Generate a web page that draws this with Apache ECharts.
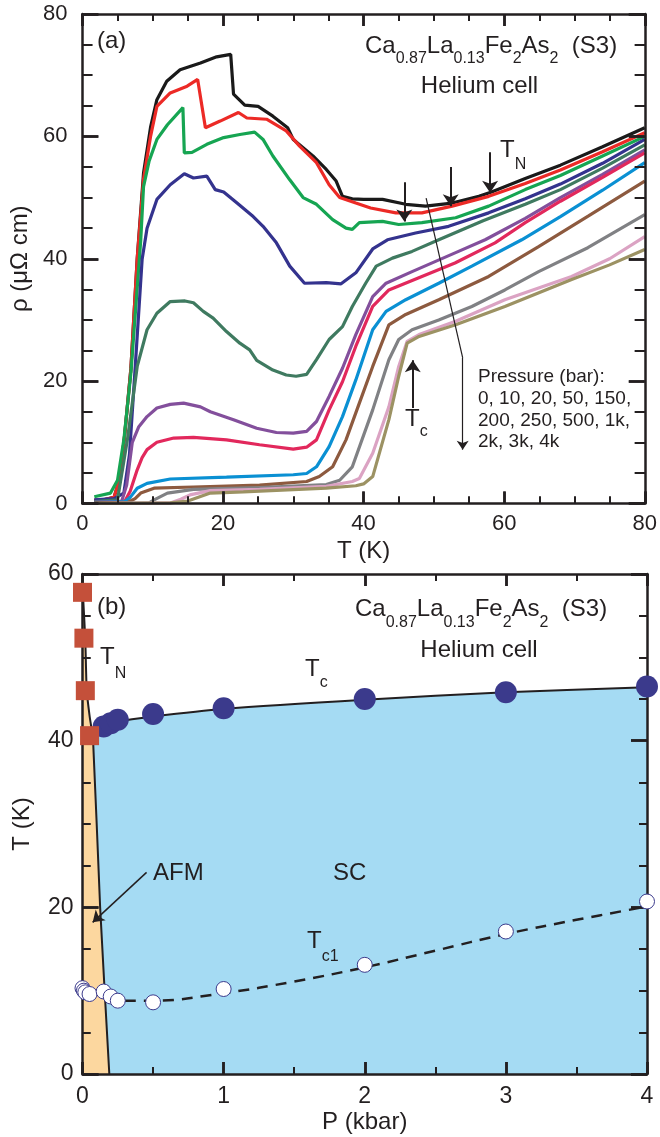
<!DOCTYPE html>
<html><head><meta charset="utf-8">
<script src="https://cdn.jsdelivr.net/npm/echarts@6/dist/echarts.min.js"></script>
<style>html,body{margin:0;padding:0;background:#fff}#c{width:660px;height:1137px}</style>
</head><body><div id="c"></div>
<script>
// ===== Panel (a): resistivity rho (µΩ cm) vs T (K) =====
const pressures = ['0', '10', '20', '50', '150', '200', '250', '500', '1k', '2k', '3k', '4k'];
const rho_0 = [[1.7,0.5],[3,0.6],[4.5,1.0],[5.3,4],[6.0,11],[6.9,22],[7.8,40],[8.7,54],[9.7,61.5],[10.6,66],[12.0,69],[13.9,70.9],[16.8,72],[19.1,73.0],[21.1,73.4],[21.5,66.9],[23.1,65.1],[25.0,64.9],[27.1,63.3],[29.2,61.4],[30.0,59.5],[32.8,56.8],[34.7,54.6],[36.1,52.7],[37.0,50.2],[38.4,49.8],[40,49.7],[42.7,49.7],[46,48.9],[48.8,48.6],[52.6,49.1],[56.4,50.2],[58.2,50.9],[63.0,53.1],[68,55.3],[74,58.3],[80,61.4]];
const rho_10 = [[1.7,0.5],[3,0.6],[4.5,1.0],[5.3,4],[6.0,11],[6.9,22],[7.8,40],[8.7,53],[9.7,60],[10.6,64.9],[12.5,67.1],[14.9,68.2],[16.4,69.3],[17.5,61.4],[19.6,62.5],[22.2,63.9],[23.4,63.0],[26.2,62.8],[29.0,60.9],[30.9,58.4],[33.3,55.7],[35.1,52.1],[36.6,50.0],[38.9,49.1],[41,48.3],[44.6,47.5],[48.3,47.5],[52.6,48.6],[57.8,50.2],[63,52.3],[68,54.5],[74,57.5],[80,60.6]];
const rho_20 = [[1.7,1.1],[4.0,1.7],[5.0,3.8],[5.9,10.4],[6.9,21.3],[8.3,43],[8.7,51.8],[9.5,56],[10.6,59.5],[12.1,61.9],[14.3,64.7],[14.5,57.3],[15.6,57.4],[17.7,58.7],[20.1,59.8],[22.4,60.3],[24.5,60.7],[25.7,59.5],[27.1,56.8],[29.5,52.9],[31.4,50.0],[33.3,48.9],[35.6,46.4],[37.5,45.0],[38.4,44.8],[39.4,45.9],[42.7,46.1],[45,45.6],[48.3,45.9],[53.1,46.7],[57.8,48.6],[63,51.3],[68,53.6],[74,56.8],[80,60.0]];
const rho_50 = [[1.7,0.6],[4.5,0.8],[5.9,1.7],[6.7,8],[7.5,22],[8.5,39.9],[9.2,45],[10.6,49.7],[12.5,52.1],[14.5,53.9],[15.8,53.2],[17.7,53.5],[18.9,51.3],[20.1,50.9],[22.0,49.1],[24.3,46.9],[25.7,45.3],[27.6,42.6],[29.5,38.8],[31.6,36.0],[34.7,36.1],[36.8,35.9],[38.9,37.7],[41.3,41.6],[43.4,43.1],[47.4,44.2],[52.1,45.3],[57.8,47.5],[63,49.8],[68,52.2],[74,55.6],[80,59.5]];
const rho_150 = [[1.7,0.3],[5.0,0.6],[6.4,10.4],[7.8,22.4],[9.2,28.4],[10.6,31.1],[12.5,33.0],[14.6,33.1],[15.8,32.8],[17.2,31.4],[18.6,30.3],[20.5,28.1],[22.4,26.2],[23.8,25.1],[24.8,23.4],[27.1,21.8],[29.0,21.0],[30.4,20.8],[31.9,21.1],[33.3,23.5],[35.1,26.8],[37.0,28.9],[38.4,32.2],[40.3,36.0],[41.8,38.8],[44.1,40.1],[46.9,41.2],[50.7,43.1],[57,46.2],[63,48.9],[68,51.3],[74,54.8],[80,58.6]];
const rho_200 = [[1.7,0.2],[5.6,0.4],[6.3,3],[7.1,10.0],[8.0,12.5],[9.2,14.2],[10.6,15.6],[12.5,16.2],[14.4,16.4],[16.8,15.8],[18.2,15.0],[21.5,13.7],[24.8,12.3],[27.6,11.6],[30.0,11.5],[31.9,11.8],[33.3,13.4],[35.1,17.5],[37.0,22.1],[38.9,27.6],[41.3,33.8],[43.2,36.0],[46.9,37.9],[53.1,41.0],[57.3,43.1],[63,46.6],[68,50.0],[74,53.8],[80,57.8]];
const rho_250 = [[1.7,0.2],[6.0,0.3],[6.8,2],[7.8,5.5],[8.5,7.5],[9.2,8.8],[10.6,10.0],[13.0,10.7],[15.8,10.8],[20.5,10.4],[25.2,9.6],[30.0,8.9],[31.9,9.2],[33.3,10.4],[35.1,15.3],[37.0,19.9],[38.9,25.7],[41.3,32.2],[43.6,34.9],[48.3,37.1],[53,39.3],[58.7,42.6],[63,45.9],[68,49.4],[74,53.3],[80,57.3]];
const rho_500 = [[1.7,0.2],[6.0,0.3],[6.8,1.0],[7.8,2.5],[9.2,3.3],[12.5,4.0],[20.5,4.3],[30.0,4.7],[31.9,4.9],[33.3,6.0],[35.1,9.3],[37.0,14.2],[38.9,20.2],[41.3,28.4],[43.2,31.4],[46,33.3],[50.7,36.0],[55.4,38.8],[62.5,43.1],[68,46.9],[74,51.2],[80,55.7]];
const rho_1k = [[1.7,0.1],[6.5,0.2],[7.5,0.8],[8.3,1.7],[10.2,2.5],[15.8,2.7],[25.2,3.0],[31.9,3.6],[33.7,4.4],[35.6,6.0],[37.5,10.4],[39.4,16.4],[41.3,22.4],[43.6,29.2],[46,30.9],[50.7,33.3],[57.8,37.1],[64.9,42.0],[72,47.0],[80,52.7]];
const rho_2k = [[1.7,0.0],[9.5,0.1],[10.2,0.6],[12.1,1.7],[15.8,2.3],[25.2,2.6],[34.7,3.1],[36.6,3.8],[38.4,6.0],[41.3,15.3],[43.6,23.5],[45.0,26.8],[46.9,28.4],[50.7,30.0],[55.4,32.2],[60.1,34.9],[64.9,37.9],[71.9,41.8],[80,47.2]];
const rho_3k = [[1.7,0.0],[12.5,0.1],[14,0.7],[15.3,1.4],[18.2,2.1],[25.2,2.3],[34.7,2.8],[38.4,3.6],[39.4,4.1],[41.3,8.2],[43.6,15.8],[45,22.4],[46.2,26.5],[47.9,27.6],[53.1,29.8],[60.1,33.3],[69.6,37.1],[75,40.0],[80,43.6]];
const rho_4k = [[1.7,0.0],[12.5,0.1],[15,0.4],[18.2,1.7],[22.9,1.9],[34.7,2.5],[38.9,2.9],[40,3.2],[41.3,4.4],[43.6,13.7],[45,20.8],[46.2,26.2],[47.9,27.3],[53.1,29.2],[60.1,32.2],[69.6,36.6],[75,39.0],[80,41.5]];
const curves = [rho_0, rho_10, rho_20, rho_50, rho_150, rho_200, rho_250, rho_500, rho_1k, rho_2k, rho_3k, rho_4k];
const curveColors = ['#1a1a1a','#ec2a26','#16a552','#34338e','#3f7a60','#834f9c','#e2285c','#0a90d3','#8d5a3f','#808184','#dba3c3','#9c9263'];
const tnArrows = [[45.8, 52.5, 46.1], [52.4, 55.0, 48.6], [58.0, 57.4, 50.8]];   // [T, rho_from, rho_to]
const tcArrow = [47.0, 15.6, 23.4];
const guideLine = [[48.9, 49.9], [54.1, 23.8]];
const guideArrow = [[54.1, 23.8], [54.1, 8.8]];
const ticksA_major = [0, 20, 40, 60, 80];
const ticksA_minor = [5, 10, 15, 25, 30, 35, 45, 50, 55, 65, 70, 75];

// ===== Panel (b): phase diagram T (K) vs P (kbar) =====
const tnP = [0, 0.01, 0.02, 0.05];
const tnT = [57.8, 52.3, 46.0, 40.6];
const tcP = [0.15, 0.2, 0.25, 0.5, 1, 2, 3, 4];
const tcT = [41.7, 42.1, 42.5, 43.2, 43.9, 45.0, 45.8, 46.5];
const tc1P = [0, 0.01, 0.02, 0.05, 0.15, 0.2, 0.25, 0.5, 1, 2, 3, 4];
const tc1T = [10.3, 10.0, 9.8, 9.6, 9.9, 9.3, 8.8, 8.6, 10.2, 13.1, 17.1, 20.7];
const tcLine = [[0.077,41.5],[0.25,42.3],[0.5,42.9],[1,43.8],[2,44.9],[3,45.8],[4,46.4]];
const afmLine = [[0,58.5],[0.005,57],[0.02,52],[0.03,46],[0.05,43],[0.075,40],[0.125,20],[0.19,0]];
const tc1Fit = [[0.3,8.8],[0.5,8.8],[1,9.7],[1.5,11.1],[2,12.8],[2.5,14.8],[3,16.8],[3.5,18.5],[4,20.1]];
const afmArrow = [[0.454, 24.2], [0.072, 18.2]];
const ticksBx_major = [0, 1, 2, 3, 4];
const ticksBx_minor = [0.5, 1.5, 2.5, 3.5];
const ticksBy_major = [0, 20, 40, 60];
const ticksBy_minor = [5, 10, 15, 25, 30, 35, 45, 50, 55];

const FONT = '"Liberation Sans", Arial, Helvetica, sans-serif';
const INK = '#231f20';
const GRIDS = [
  { left: 81.5, top: 14, width: 565.5, height: 489.5, x: [0, 80], y: [0, 80] },
  { left: 82.5, top: 574, width: 564.5, height: 500, x: [0, 4], y: [0, 60] }
];

function zip(a, b) { return a.map((v, i) => [v, b[i]]); }

function axis(grid, pos, max, interval, minor, tl, ml, lab) {
  const a = { type: 'value', min: 0, max: max, interval: interval, gridIndex: grid, position: pos, z: 10,
    axisLine: { show: true, onZero: false, lineStyle: { color: INK, width: 2.5 } },
    axisTick: { show: true, inside: true, length: tl, lineStyle: { color: INK, width: 2.5 } },
    minorTick: { show: true, splitNumber: minor, length: ml, lineStyle: { color: INK, width: 2 } },
    splitLine: { show: false },
    axisLabel: { show: !!lab } };
  if (lab) {
    a.axisLabel = { show: true, fontSize: lab.fs, fontFamily: FONT, color: INK, margin: lab.margin };
    a.name = lab.name; a.nameLocation = 'middle'; a.nameGap = lab.gap;
    a.nameTextStyle = { fontSize: 24, fontFamily: FONT, color: INK };
  }
  return a;
}

// inward tick marks as markLine segments in data coordinates (length converted from px by the axis span)
function tickLines(gi, xVals, yVals, xLenPx, yLenPx, width) {
  const g = GRIDS[gi];
  const dy = xLenPx * (g.y[1] - g.y[0]) / g.height;   // vertical tick length in y-units
  const dx = yLenPx * (g.x[1] - g.x[0]) / g.width;    // horizontal tick length in x-units
  const segs = [];
  xVals.forEach(v => {
    segs.push([{ coord: [v, g.y[0]] }, { coord: [v, g.y[0] + dy] }]);
    segs.push([{ coord: [v, g.y[1]] }, { coord: [v, g.y[1] - dy] }]);
  });
  yVals.forEach(v => {
    segs.push([{ coord: [g.x[0], v] }, { coord: [g.x[0] + dx, v] }]);
    segs.push([{ coord: [g.x[1], v] }, { coord: [g.x[1] - dx, v] }]);
  });
  return { type: 'line', xAxisIndex: gi * 2, yAxisIndex: gi * 2, data: [], z: 6,
    markLine: { symbol: ['none', 'none'], silent: true, animation: false, precision: 6,
      label: { show: false }, emphasis: { disabled: true },
      lineStyle: { color: INK, width: width, type: 'solid' }, data: segs } };
}

function plain(x, y, text, size, align) {
  return { type: 'text', x: x, y: y, z: 100,
    style: { text: text, font: size + 'px ' + FONT, fill: INK, textAlign: align || 'left', textVerticalAlign: 'middle' } };
}
function subLabel(x, y, text, d, size, subSize) {
  size = size || 24; subSize = subSize || 16;
  return { type: 'text', x: x, y: y - size / 2, z: 100,
    style: { text: text, textAlign: 'left', textVerticalAlign: 'top', fill: INK,
      rich: {
        m: { font: size + 'px ' + FONT, fill: INK, height: size, verticalAlign: 'top' },
        s: { font: subSize + 'px ' + FONT, fill: INK, height: size + 2 * d, verticalAlign: 'top' }
      } } };
}
const formula = '{m|Ca}{s|0.87}{m|La}{s|0.13}{m|Fe}{s|2}{m|As}{s|2}{m|  (S3)}';

const chart = echarts.init(document.getElementById('c'));

const series = [];
curves.forEach((c, i) => {
  series.push({ name: pressures[i] + ' bar', type: 'line', xAxisIndex: 0, yAxisIndex: 0, data: c,
    showSymbol: false, symbol: 'none', animation: false, z: 3,
    lineStyle: { color: curveColors[i], width: 3.2 } });
});
const arrowLine = (pairs, w, size) => ({
  symbol: ['none', 'arrow'], symbolSize: size, silent: true, animation: false,
  label: { show: false }, lineStyle: { color: INK, width: w, type: 'solid' },
  emphasis: { disabled: true }, data: pairs
});
series.push({ type: 'line', xAxisIndex: 0, yAxisIndex: 0, data: guideLine, showSymbol: false, symbol: 'none',
  animation: false, z: 6, lineStyle: { color: INK, width: 1.2 },
  markLine: arrowLine([[{ coord: guideArrow[0] }, { coord: guideArrow[1] }]], 1.2, 9) });
series.push({ type: 'line', xAxisIndex: 0, yAxisIndex: 0, data: [], z: 6,
  markLine: arrowLine(tnArrows.map(a => [{ coord: [a[0], a[1]] }, { coord: [a[0], a[2]] }])
    .concat([[{ coord: [tcArrow[0], tcArrow[1]] }, { coord: [tcArrow[0], tcArrow[2]] }]]), 2, 12) });
series.push(tickLines(0, ticksA_major, ticksA_major, 12, 16, 2.5));
series.push(tickLines(0, ticksA_minor, ticksA_minor, 7, 10, 2));

// panel (b)
series.push({ type: 'line', xAxisIndex: 2, yAxisIndex: 2, data: tcLine, smooth: 0.3, showSymbol: false, symbol: 'none',
  animation: false, z: 2, lineStyle: { color: INK, width: 2 }, areaStyle: { color: '#a5dbf3', opacity: 1 } });
series.push({ type: 'line', xAxisIndex: 2, yAxisIndex: 2, data: afmLine, smooth: 0.2, showSymbol: false, symbol: 'none',
  animation: false, z: 3, lineStyle: { color: INK, width: 2 }, areaStyle: { color: '#fcd79f', opacity: 1 } });
series.push({ type: 'line', xAxisIndex: 2, yAxisIndex: 2, data: tc1Fit, smooth: 0.4, showSymbol: false, symbol: 'none',
  animation: false, z: 4, lineStyle: { color: INK, width: 2.5, type: [11, 8] } });
series.push({ type: 'line', xAxisIndex: 2, yAxisIndex: 2, data: [], z: 5,
  markLine: arrowLine([[{ coord: afmArrow[0] }, { coord: afmArrow[1] }]], 1.5, 11) });
series.push(tickLines(1, ticksBx_major, ticksBy_major, 12, 16, 2.5));
series.push(tickLines(1, ticksBx_minor, ticksBy_minor, 7, 8, 2));
series.push({ type: 'scatter', xAxisIndex: 2, yAxisIndex: 2, data: zip(tc1P, tc1T), clip: false, animation: false, z: 20,
  symbol: 'circle', symbolSize: 15, itemStyle: { color: '#ffffff', borderColor: '#3b3a8c', borderWidth: 1, opacity: 1 } });
series.push({ type: 'scatter', xAxisIndex: 2, yAxisIndex: 2, data: zip(tcP, tcT), clip: false, animation: false, z: 21,
  symbol: 'circle', symbolSize: 22, itemStyle: { color: '#3b3a8c', opacity: 1 } });
series.push({ type: 'scatter', xAxisIndex: 2, yAxisIndex: 2, data: zip(tnP, tnT), clip: false, animation: false, z: 22,
  symbol: 'rect', symbolSize: 19, itemStyle: { color: '#c4503a', opacity: 1 } });

chart.setOption({
  animation: false,
  backgroundColor: '#fff',
  grid: GRIDS.map(g => ({ left: g.left, top: g.top, width: g.width, height: g.height })),
  xAxis: [
    axis(0, 'bottom', 80, 20, 4, 12, 7, { fs: 22, margin: 9, name: 'T (K)', gap: 36 }),
    axis(0, 'top', 80, 20, 4, 12, 7),
    axis(1, 'bottom', 4, 1, 2, 12, 7, { fs: 23, margin: 11, name: 'P (kbar)', gap: 36 }),
    axis(1, 'top', 4, 1, 2, 12, 7)
  ],
  yAxis: [
    axis(0, 'left', 80, 20, 4, 16, 10, { fs: 22, margin: 15, name: 'ρ (μΩ cm)', gap: 44 }),
    axis(0, 'right', 80, 20, 4, 16, 10),
    axis(1, 'left', 60, 20, 4, 16, 8, { fs: 23, margin: 9, name: 'T (K)', gap: 48 }),
    axis(1, 'right', 60, 20, 4, 16, 8)
  ],
  series: series,
  graphic: [
    plain(97, 41.5, '(a)', 24),
    subLabel(365, 46.7, formula, 12.3),
    plain(479.5, 86, 'Helium cell', 24, 'center'),
    subLabel(500, 150, '{m|T}{s|N}', 15),
    plain(478, 376.5, 'Pressure (bar):', 19),
    plain(478, 399, '0, 10, 20, 50, 150,', 19),
    plain(478, 420.5, '200, 250, 500, 1k,', 19),
    plain(478, 442, '2k, 3k, 4k', 19),
    subLabel(405, 419, '{m|T}{s|c}', 13),
    plain(97, 607, '(b)', 24),
    subLabel(100, 657, '{m|T}{s|N}', 17),
    subLabel(305, 669, '{m|T}{s|c}', 14),
    subLabel(355, 609, formula, 14),
    plain(479, 650, 'Helium cell', 24, 'center'),
    plain(153, 873, 'AFM', 24),
    plain(333, 873, 'SC', 24),
    subLabel(307, 941.5, '{m|T}{s|c1}', 15)
  ]
});
</script>
</body></html>
